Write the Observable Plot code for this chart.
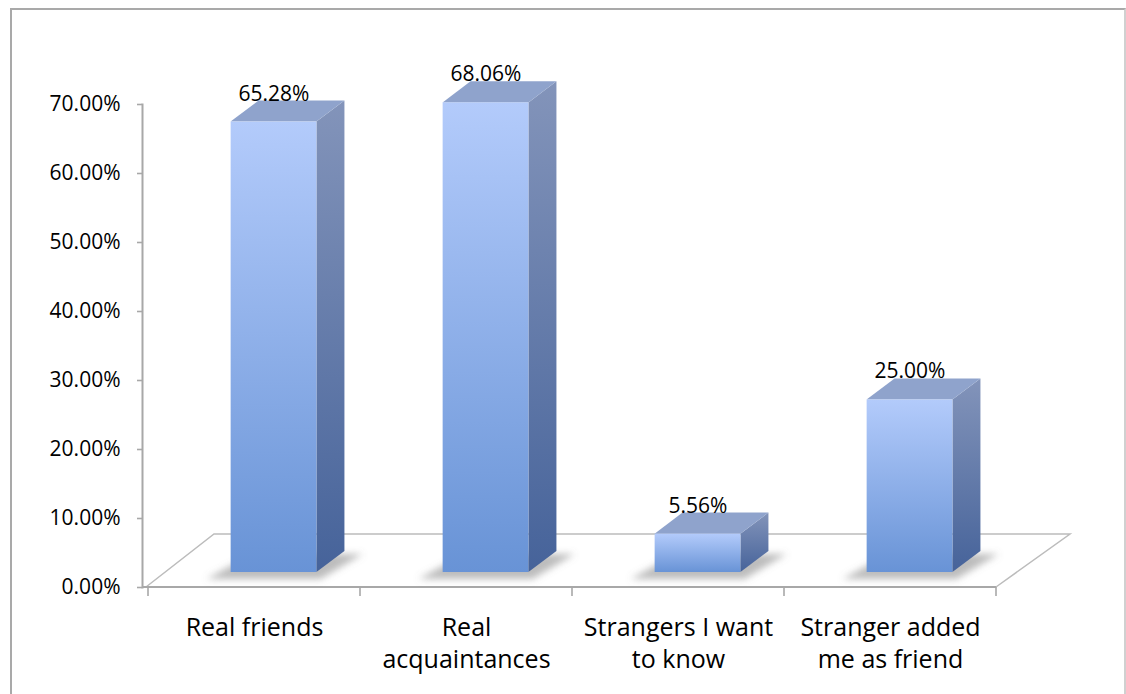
<!DOCTYPE html>
<html><head><meta charset="utf-8">
<script src="https://cdn.jsdelivr.net/npm/d3@7"></script>
<script src="https://cdn.jsdelivr.net/npm/@observablehq/plot@0.6"></script>
<style>
html,body{margin:0;padding:0;background:#fff;}
#wrap{position:relative;width:1126px;height:694px;overflow:hidden;}
#border{position:absolute;left:10px;top:8px;width:1116px;height:720px;border-left:2px solid #a9a9a9;border-top:2px solid #a9a9a9;border-right:2px solid #d0d0d0;box-sizing:border-box;}
#chart{position:absolute;left:0;top:0;}
</style></head>
<body><div id="wrap"><div id="border"></div><div id="chart"></div></div>
<script>
// ---- data ----
const categories = ["Real friends", "Real acquaintances", "Strangers I want to know", "Stranger added me as friend"];
const categoryLabels = ["Real friends", "Real\nacquaintances", "Strangers I want\nto know", "Stranger added\nme as friend"];
const values = [65.28, 68.06, 5.56, 25.00];
const yTicks = [0, 10, 20, 30, 40, 50, 60, 70];

const data = categories.map((c, i) => ({category: c, value: values[i], label: categoryLabels[i]}));

// ---- 3D projection settings ----
const FLOOR_DX = 70, FLOOR_DY = -53;   // full floor depth offset (px)
const BAR_D0 = 0.283, BAR_D1 = 0.68;   // bar depth start / end (fraction of floor depth)
const BAR_FRAC = 0.405;                // bar width as fraction of band
const X_RANGE = [147, 996];
const BW = (X_RANGE[1] - X_RANGE[0]) / categories.length;
const INSET = BW * (1 - BAR_FRAC) / 2;
const FDX = 19.5, FDY = FLOOR_DY * BAR_D0;                  // front face offset
const SDX = 28, SDY = FLOOR_DY * (BAR_D1 - BAR_D0);         // side depth
const FONT = "'Open Sans', sans-serif";

const NS = "http://www.w3.org/2000/svg";
function el(tag, attrs, parent) {
  const e = document.createElementNS(NS, tag);
  for (const k in attrs) e.setAttribute(k, attrs[k]);
  if (parent) parent.appendChild(e);
  return e;
}
function barGeom(scales, i) {
  const bw = scales.x.bandwidth();
  const inset = bw * (1 - BAR_FRAC) / 2;
  const x0 = scales.x(categories[i]) + inset + FDX;
  const x1 = scales.x(categories[i]) + bw - inset + FDX;
  const yb = scales.y(0) + FDY;
  const yt = scales.y(values[i]) + FDY;
  return {x0, x1, yb, yt};
}

function defsMark() {
  const g = el("g", {});
  const defs = el("defs", {}, g);
  const fg = el("linearGradient", {id: "frontGrad", x1: 0, y1: 0, x2: 0, y2: 1}, defs);
  el("stop", {offset: "0%", "stop-color": "#b3cbfb"}, fg);
  el("stop", {offset: "100%", "stop-color": "#6893d6"}, fg);
  const sg = el("linearGradient", {id: "sideGrad", x1: 0, y1: 0, x2: 0, y2: 1}, defs);
  el("stop", {offset: "0%", "stop-color": "#8394ba"}, sg);
  el("stop", {offset: "100%", "stop-color": "#46639a"}, sg);
  const f = el("filter", {id: "shadowBlur", x: "-30%", y: "-50%", width: "160%", height: "200%"}, defs);
  el("feGaussianBlur", {stdDeviation: 3.5}, f);
  return g;
}

function floorMark(index, scales) {
  const {x, y} = scales;
  const bw = x.bandwidth();
  const xl = x(categories[0]) - 6, xr = x(categories[categories.length - 1]) + bw, y0 = y(0);
  const g = el("g", {fill: "none"});
  el("path", {d: `M${xl + 4},${y0}L${xl + 2 + FLOOR_DX},${y0 + FLOOR_DY}L${xr + FLOOR_DX + 4},${y0 + FLOOR_DY}L${xr},${y0}`,
    stroke: "#bcbcbc", "stroke-width": 1.5}, g);
  el("line", {x1: xl, y1: y0, x2: xr, y2: y0, stroke: "#a8a8a8", "stroke-width": 2.2}, g);
  for (let i = 0; i <= categories.length; i++) {
    const bx = x(categories[0]) + i * bw;
    el("line", {x1: bx, x2: bx, y1: y0, y2: y0 + 9, stroke: "#a8a8a8", "stroke-width": 1.6}, g);
  }
  return g;
}

function shadowMark(index, scales) {
  const g = el("g", {fill: "#7a7a7a", "fill-opacity": 0.5, filter: "url(#shadowBlur)"});
  categories.forEach((c, i) => {
    const {x0, x1, yb} = barGeom(scales, i);
    el("path", {d: `M${x0 - 24},${yb + 7}L${x1 + 4},${yb + 7}L${x1 + SDX + 18},${yb + SDY + 3}L${x0 + SDX - 6},${yb + SDY + 3}Z`}, g);
  });
  return g;
}

function sideTopMark(index, scales) {
  const g = el("g", {});
  categories.forEach((c, i) => {
    const {x0, x1, yb, yt} = barGeom(scales, i);
    el("path", {d: `M${x1},${yt}L${x1 + SDX},${yt + SDY}L${x1 + SDX},${yb + SDY}L${x1},${yb}Z`, fill: "url(#sideGrad)"}, g);
    el("path", {d: `M${x0},${yt}L${x1},${yt}L${x1 + SDX},${yt + SDY}L${x0 + SDX},${yt + SDY}Z`, fill: "#8fa3cc"}, g);
  });
  return g;
}

const chart = Plot.plot({
  width: 1126,
  height: 694,
  marginLeft: 142,
  marginRight: 56,
  marginTop: 104,
  marginBottom: 107,
  style: {fontFamily: FONT, background: "transparent", color: "#000"},
  x: {type: "band", domain: categories, range: X_RANGE, padding: 0, axis: null},
  y: {domain: [0, 70], axis: null},
  marks: [
    defsMark,
    floorMark,
    Plot.frame({anchor: "left", stroke: "#a8a8a8", strokeWidth: 2}),
    Plot.axisY({ticks: yTicks, tickFormat: d => d.toFixed(2) + "%", tickSize: 5, tickPadding: 17, label: null,
      fontSize: 21, stroke: "#a8a8a8", strokeWidth: 1.6, fill: "#000"}),
    shadowMark,
    sideTopMark,
    Plot.barY(data, {x: "category", y: "value", fill: "url(#frontGrad)", insetLeft: INSET, insetRight: INSET, dx: FDX, dy: FDY}),
    Plot.text(data, {x: "category", y: "value", text: d => d.value.toFixed(2) + "%", dx: FDX, dy: FDY + SDY - 0.5,
      lineAnchor: "bottom", fontSize: 21, fill: "#000"}),
    Plot.text(data, {x: "category", text: "label", frameAnchor: "bottom", lineAnchor: "top", dy: 26,
      lineHeight: 1.28, fontSize: 25, fill: "#000"})
  ]
});
document.getElementById("chart").appendChild(chart);
</script>
</body></html>
